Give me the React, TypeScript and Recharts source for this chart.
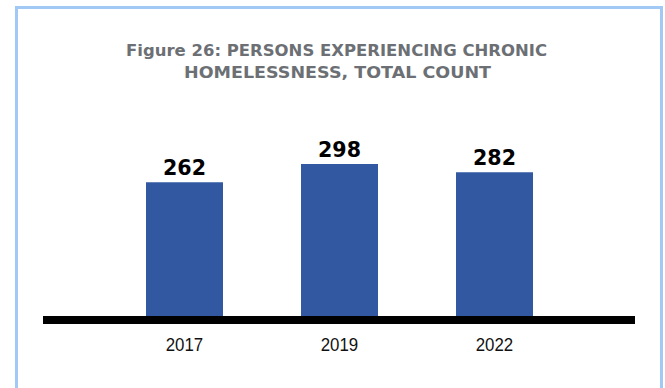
import React from 'react';
import { BarChart, Bar, XAxis, YAxis, LabelList } from 'recharts';

const years = ['2017', '2019', '2022'];
const counts = [262, 298, 282];
const titleLines = ['Figure 26: PERSONS EXPERIENCING CHRONIC', 'HOMELESSNESS, TOTAL COUNT'];

const data = years.map((y, i) => ({ year: y, count: counts[i] }));

const YearTick = (props: any) => {
  const { x, y, payload } = props;
  return (
    <text
      x={x}
      y={y}
      dy={23}
      textAnchor="middle"
      fill="#111"
      fontFamily="'Liberation Sans', Arial, sans-serif"
      fontSize={19}
      textLength={37.5}
      lengthAdjust="spacingAndGlyphs"
    >
      {payload.value}
    </text>
  );
};

const ValueLabel = (props: any) => {
  const { x, y, width, value } = props;
  return (
    <text
      x={x + width / 2}
      y={y - 7}
      textAnchor="middle"
      fill="#000"
      fontFamily="'DejaVu Sans', sans-serif"
      fontWeight="bold"
      fontSize={21}
      textLength={43}
      lengthAdjust="spacingAndGlyphs"
    >
      {value}
    </text>
  );
};

export default function App() {
  return (
    <div style={{ position: 'absolute', left: 0, top: 0, width: 665, height: 388, overflow: 'hidden', background: '#fff' }}>
      <div
        style={{
          position: 'absolute',
          left: 15,
          top: 6,
          width: 642,
          height: 420,
          border: '3px solid #a2c8f6',
        }}
      />
      <svg style={{ position: 'absolute', left: 0, top: 0 }} width={665} height={100}>
        <text
          x={336.5}
          y={56}
          textAnchor="middle"
          fill="#6c6f74"
          fontFamily="'DejaVu Sans', sans-serif"
          fontWeight="bold"
          fontSize={15.5}
          textLength={421}
          lengthAdjust="spacingAndGlyphs"
        >
          {titleLines[0]}
        </text>
        <text
          x={337.5}
          y={77.7}
          textAnchor="middle"
          fill="#6c6f74"
          fontFamily="'DejaVu Sans', sans-serif"
          fontWeight="bold"
          fontSize={15.5}
          textLength={307}
          lengthAdjust="spacingAndGlyphs"
        >
          {titleLines[1]}
        </text>
      </svg>
      <div style={{ position: 'absolute', left: 0, top: 0 }}>
        <BarChart width={665} height={388} data={data} margin={{ top: 112, right: 30, bottom: 28, left: 43 }}>
          <YAxis hide domain={[-8, 400]} type="number" />
          <XAxis
            dataKey="year"
            height={40}
            padding={{ left: 64, right: 63 }}
            axisLine={{ stroke: '#000', strokeWidth: 8 }}
            tickLine={false}
            tick={<YearTick />}
            interval={0}
          />
          <Bar dataKey="count" fill="#3258a2" barSize={77} isAnimationActive={false}>
            <LabelList dataKey="count" content={<ValueLabel />} />
          </Bar>
        </BarChart>
      </div>
    </div>
  );
}
